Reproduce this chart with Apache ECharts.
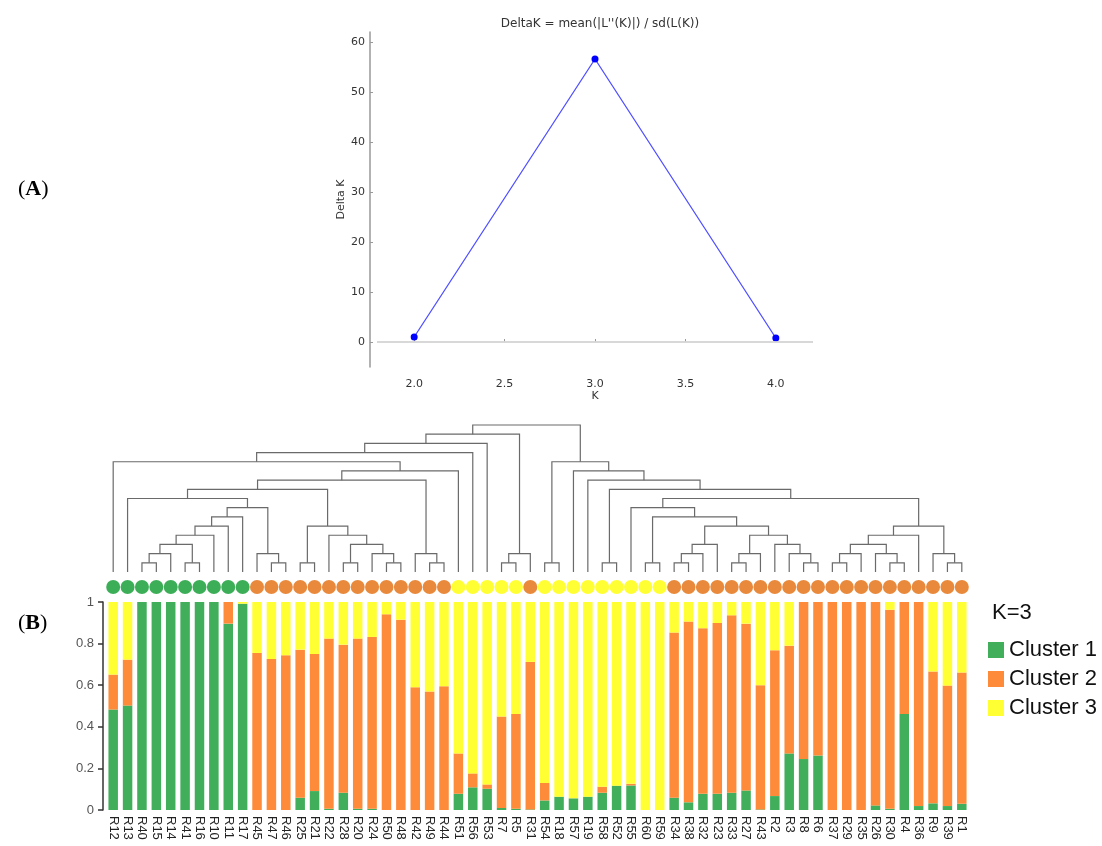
<!DOCTYPE html>
<html><head><meta charset="utf-8">
<script src="https://cdn.jsdelivr.net/npm/echarts@6/dist/echarts.min.js"></script>
<style>html,body{margin:0;background:#fff}#c{width:1102px;height:846px}</style>
</head><body><div id="c"></div>
<script>
// ---- Panel A data ----
const kValues = [2, 3, 4];
const deltaK = [1.0, 56.6, 0.8];
const kTicks = [2.0, 2.5, 3.0, 3.5, 4.0];
const deltaTicks = [0, 10, 20, 30, 40, 50, 60];

// ---- Panel B data ----
const samples = ['R12','R13','R40','R15','R14','R41','R16','R10','R11','R17',
  'R45','R47','R46','R25','R21','R22','R28','R20','R24','R50',
  'R48','R42','R49','R44','R51','R56','R53','R7','R5','R31',
  'R54','R18','R57','R19','R58','R52','R55','R60','R59','R34',
  'R38','R32','R23','R33','R27','R43','R2','R3','R8','R6',
  'R37','R29','R35','R26','R30','R4','R36','R9','R39','R1'];
const cluster1 = [0.483,0.502,1,1,1,1,1,1,0.896,0.992,
  0,0,0,0.059,0.091,0.006,0.083,0.006,0.006,0,
  0,0,0,0,0.078,0.109,0.102,0.010,0.006,0.003,
  0.046,0.064,0.056,0.064,0.083,0.117,0.118,0,0,0.059,
  0.037,0.078,0.078,0.083,0.094,0.003,0.067,0.272,0.245,0.262,
  0,0,0,0.022,0.006,0.462,0.019,0.032,0.019,0.030];
const cluster2 = [0.168,0.221,0,0,0,0,0,0,0.104,0,
  0.755,0.726,0.744,0.712,0.659,0.818,0.712,0.818,0.826,0.941,
  0.915,0.590,0.570,0.595,0.194,0.067,0.021,0.440,0.456,0.709,
  0.084,0,0,0,0.029,0,0.008,0,0,0.794,
  0.869,0.796,0.821,0.853,0.802,0.597,0.701,0.518,0.755,0.738,
  1,1,1,0.978,0.957,0.538,0.981,0.634,0.579,0.631];
const cluster3 = [0.349,0.277,0,0,0,0,0,0,0,0.008,
  0.245,0.274,0.256,0.229,0.250,0.176,0.205,0.176,0.168,0.059,
  0.085,0.410,0.430,0.405,0.728,0.824,0.877,0.550,0.538,0.288,
  0.870,0.936,0.944,0.936,0.888,0.883,0.874,1,1,0.147,
  0.094,0.126,0.101,0.064,0.104,0.400,0.232,0.210,0,0,
  0,0,0,0,0.037,0,0,0.334,0.402,0.339];
// assigned group (coloured circles)
const groupOf = [1,1,1,1,1,1,1,1,1,1,
  2,2,2,2,2,2,2,2,2,2,
  2,2,2,2,3,3,3,3,3,2,
  3,3,3,3,3,3,3,3,3,2,
  2,2,2,2,2,2,2,2,2,2,
  2,2,2,2,2,2,2,2,2,2];
const yTicksB = [0, 0.2, 0.4, 0.6, 0.8, 1];
// dendrogram merges: [childA, childB, level]; leaves 0..59, new nodes numbered from 60
const dendroMerges = [
  [2,3,1],[5,6,1],[11,12,1],[13,14,1],[16,17,1],[19,20,1],[22,23,1],[27,28,1],
  [60,4,2],[10,62,2],[18,65,2],[21,66,2],[67,29,2],
  [68,61,3],[64,70,3],[73,7,4],[15,74,4],[75,8,5],[63,76,5],[77,9,6],[79,69,7],
  [1,80,8],[81,78,9],[82,71,10],[83,24,11],[0,84,12],[85,25,13],[86,26,14],[87,72,15],
  [30,31,1],[34,35,1],[37,38,1],[39,40,1],[43,44,1],[48,49,1],[50,51,1],[54,55,1],[58,59,1],
  [92,41,2],[93,45,2],[47,94,2],[95,52,2],[53,96,2],[57,97,2],
  [98,42,3],[46,100,3],[101,102,3],[99,105,4],[106,56,4],[104,107,5],[108,103,5],
  [91,109,6],[36,111,7],[112,110,8],[90,113,9],[33,114,10],[32,115,11],[89,116,12],
  [88,117,16]
];

const barColors = ['#41ae5b', '#fd8b3a', '#ffff33'];
const circleColors = {1: '#0c9a2e', 2: '#e46c0a', 3: '#ffff00'};

// build dendrogram segments
const nodeX = samples.map((_, i) => i);
const nodeH = samples.map(() => 0);
const dendroData = dendroMerges.map(([a, b, lv]) => {
  const item = [nodeX[a], nodeH[a], nodeX[b], nodeH[b], lv];
  nodeX.push((nodeX[a] + nodeX[b]) / 2);
  nodeH.push(lv);
  return item;
});

const chart = echarts.init(document.getElementById('c'));
const mplFont = 'DejaVu Sans';
const arial = 'Liberation Sans';
const gL = 106, gR = 133;

const option = {
  animation: false,
  backgroundColor: '#fff',
  title: {
    text: "DeltaK = mean(|L''(K)|) / sd(L(K))",
    left: 595, top: 13, textAlign: 'center',
    textStyle: {fontFamily: mplFont, fontSize: 12, fontWeight: 'normal', color: '#333'}
  },
  legend: {
    orient: 'vertical', left: 983, top: 634,
    data: ['Cluster 1', 'Cluster 2', 'Cluster 3'],
    icon: 'rect', itemWidth: 16, itemHeight: 16, itemGap: 7,
    textStyle: {fontFamily: arial, fontSize: 22, color: '#111', lineHeight: 22}
  },
  graphic: [
    {type: 'text', left: 18, top: 178, style: {
      text: '{n|(}{b|A}{n|)}',
      rich: {n: {fontFamily: 'Liberation Serif', fontSize: 22, color: '#000'},
             b: {fontFamily: 'Liberation Serif', fontSize: 22, fontWeight: 'bold', color: '#000'}}}},
    {type: 'text', left: 18, top: 612, style: {
      text: '{n|(}{b|B}{n|)}',
      rich: {n: {fontFamily: 'Liberation Serif', fontSize: 22, color: '#000'},
             b: {fontFamily: 'Liberation Serif', fontSize: 22, fontWeight: 'bold', color: '#000'}}}},
    {type: 'text', left: 992, top: 602, style: {text: 'K=3', fontFamily: arial, fontSize: 22, fill: '#111'}}
  ],
  grid: [
    {left: 378, right: 290, top: 32, height: 335, outerBoundsMode: 'none'},
    {left: gL, right: gR, top: 425, height: 147, outerBoundsMode: 'none'},
    {left: gL, right: gR, top: 580, height: 14, outerBoundsMode: 'none'},
    {left: gL, right: gR, top: 602, height: 208, outerBoundsMode: 'none'}
  ],
  xAxis: [
    {gridIndex: 0, type: 'value', min: 1.8, max: 4.2, offset: 8,
      name: 'K', nameLocation: 'middle', nameGap: 14,
      nameTextStyle: {fontFamily: mplFont, fontSize: 11, color: '#333'},
      axisLine: {lineStyle: {color: '#999', width: 1.5}},
      axisTick: {inside: true, length: 3, customValues: kTicks, lineStyle: {color: '#999'}},
      axisLabel: {customValues: kTicks, margin: 4, formatter: v => v.toFixed(1),
        fontFamily: mplFont, fontSize: 11, color: '#333'},
      splitLine: {show: false}},
    {gridIndex: 1, type: 'value', min: -0.5, max: samples.length - 0.5, show: false},
    {gridIndex: 2, type: 'category', data: samples, show: false},
    {gridIndex: 3, type: 'category', data: samples,
      axisLine: {show: false}, axisTick: {show: false},
      axisLabel: {interval: 0, rotate: -90, margin: 6, fontFamily: arial, fontSize: 13, color: '#222'}}
  ],
  yAxis: [
    {gridIndex: 0, type: 'value', min: -5, max: 62, offset: 8,
      name: 'Delta K', nameLocation: 'middle', nameGap: 21, nameRotate: 90,
      nameTextStyle: {fontFamily: mplFont, fontSize: 11, color: '#333'},
      axisLine: {show: true, lineStyle: {color: '#999', width: 1.5}},
      axisTick: {show: true, inside: true, length: 3, customValues: deltaTicks, lineStyle: {color: '#999'}},
      axisLabel: {customValues: deltaTicks, margin: 5, fontFamily: mplFont, fontSize: 11, color: '#333'},
      splitLine: {show: false}},
    {gridIndex: 1, type: 'value', min: 0, max: 16, show: false},
    {gridIndex: 2, type: 'value', min: -1, max: 1, show: false},
    {gridIndex: 3, type: 'value', min: 0, max: 1, offset: 3,
      axisLine: {show: true, lineStyle: {color: '#333', width: 1.5}},
      axisTick: {show: true, length: 5, customValues: yTicksB, lineStyle: {color: '#333', width: 1.5}},
      axisLabel: {customValues: yTicksB, margin: 9, fontFamily: arial, fontSize: 13, color: '#555'},
      splitLine: {show: false}}
  ],
  series: [
    {type: 'line', xAxisIndex: 0, yAxisIndex: 0,
      data: kValues.map((k, i) => [k, deltaK[i]]),
      symbol: 'circle', symbolSize: 7,
      lineStyle: {color: '#5050ff', width: 1.3},
      itemStyle: {color: '#0000ff'},
      markLine: {silent: true, symbol: ['none', 'none'], label: {show: false},
        lineStyle: {color: '#e4e4e4', width: 1.5, type: 'solid'},
        data: [{yAxis: 0}]},
      z: 3},
    {type: 'custom', xAxisIndex: 1, yAxisIndex: 1, data: dendroData,
      encode: {x: [0, 2], y: [1, 3, 4]}, clip: false,
      renderItem: (params, api) => {
        const xa = api.value(0), ha = api.value(1), xb = api.value(2), hb = api.value(3), lv = api.value(4);
        return {type: 'polyline',
          shape: {points: [api.coord([xa, ha]), api.coord([xa, lv]), api.coord([xb, lv]), api.coord([xb, hb])]},
          style: {stroke: '#6a6a6a', lineWidth: 1.2, fill: null}};
      }},
    {type: 'scatter', xAxisIndex: 2, yAxisIndex: 2, symbolSize: 14,
      data: groupOf.map((g, i) => ({value: [i, 0], itemStyle: {color: circleColors[g]}}))},
    {name: 'Cluster 1', type: 'bar', xAxisIndex: 3, yAxisIndex: 3, stack: 'q', barWidth: '66%',
      itemStyle: {color: barColors[0]}, data: cluster1},
    {name: 'Cluster 2', type: 'bar', xAxisIndex: 3, yAxisIndex: 3, stack: 'q', barWidth: '66%',
      itemStyle: {color: barColors[1]}, data: cluster2},
    {name: 'Cluster 3', type: 'bar', xAxisIndex: 3, yAxisIndex: 3, stack: 'q', barWidth: '66%',
      itemStyle: {color: barColors[2]}, data: cluster3}
  ]
};
chart.setOption(option);
</script>
</body></html>
